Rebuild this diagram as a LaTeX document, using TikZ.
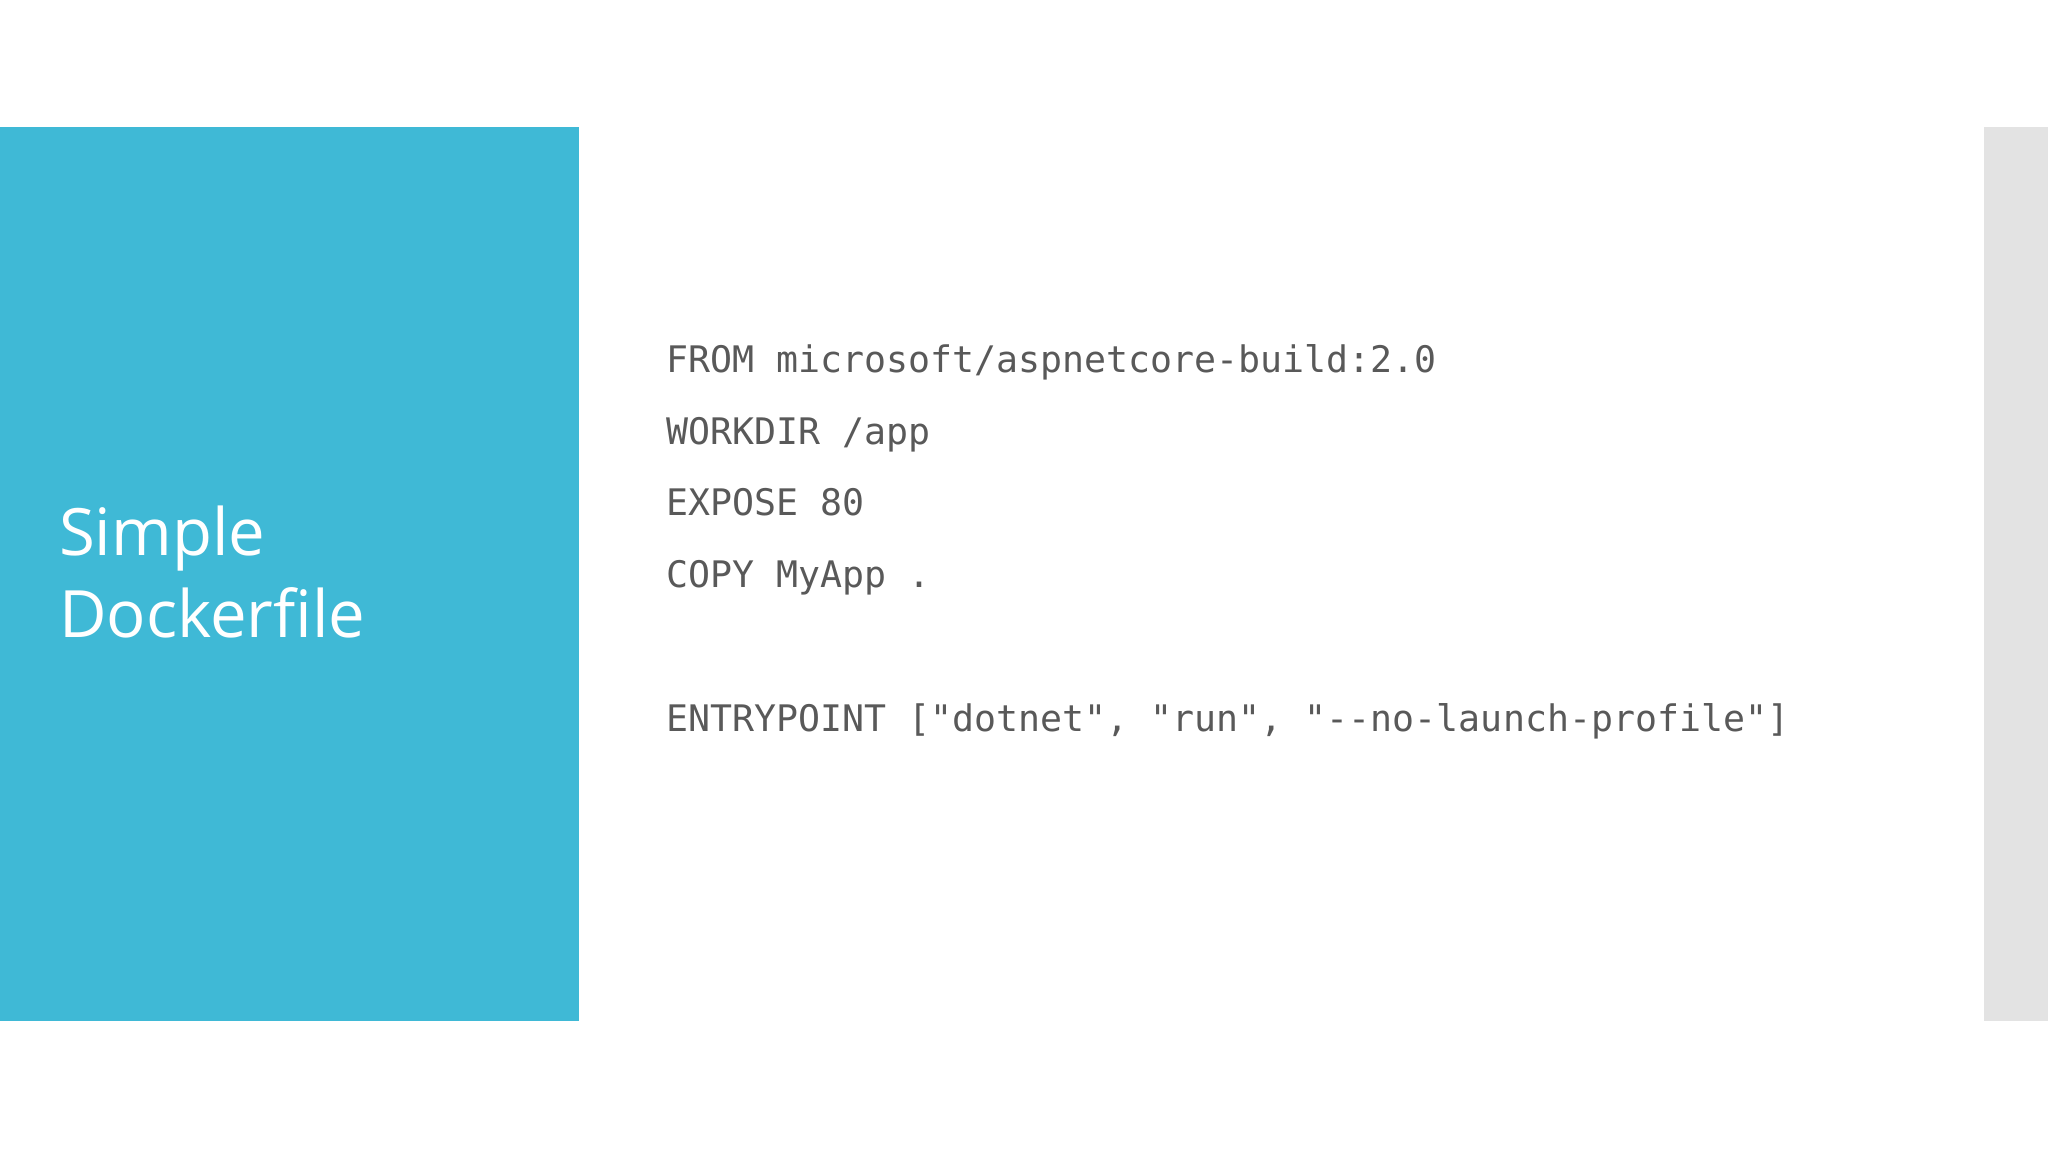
\documentclass[tikz,border=0pt]{standalone}
\usepackage{fontspec}
\setmainfont{Open Sans}
\setmonofont{DejaVu Sans Mono}
\definecolor{blueband}{HTML}{3FB9D6}
\definecolor{grayband}{HTML}{E3E3E3}
\definecolor{codegray}{HTML}{595959}
\begin{document}
\begin{tikzpicture}[x=1pt,y=-1pt,
  code/.style={anchor=base west,inner sep=0pt,text=codegray,font=\ttfamily\fontsize{28}{28}\selectfont},
  title/.style={anchor=base west,inner sep=0pt,text=white,font=\fontsize{50}{50}\selectfont}]
\useasboundingbox (0,0) rectangle (1568,882);
\fill[blueband] (0,97) rectangle (443,782);
\fill[grayband] (1519,97) rectangle (1568,782);
\node[title] (t1) at (45,425) {Simple};
\node[title] (t2) at (45,488) {Dockerfile};
\node[code] (l1) at (510,285) {FROM microsoft/aspnetcore-build:2.0};
\node[code] (l2) at (510,340) {WORKDIR /app};
\node[code] (l3) at (510,395) {EXPOSE 80};
\node[code] (l4) at (510,450) {COPY MyApp .};
\node[code] (l5) at (510,560) {ENTRYPOINT ["dotnet", "run", "--no-launch-profile"]};
\end{tikzpicture}
\end{document}
